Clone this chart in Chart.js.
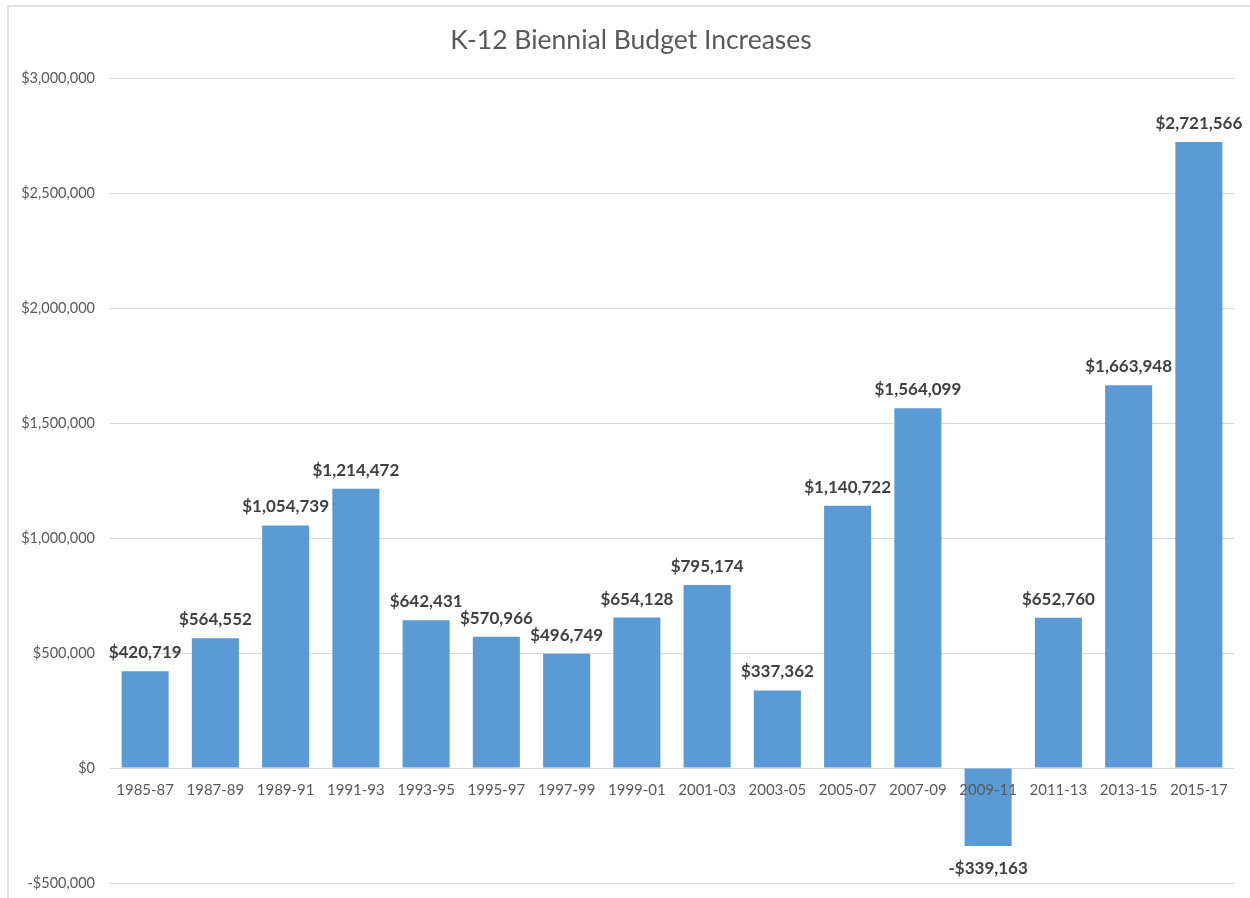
<!DOCTYPE html>
<html>
<head>
<meta charset="utf-8">
<title>K-12 Biennial Budget Increases</title>
<script src="https://cdn.jsdelivr.net/npm/chart.js@4/dist/chart.umd.min.js"></script>
<style>
  html, body { margin: 0; padding: 0; background: #fff; }
  #wrap { width: 1250px; height: 898px; }
</style>
</head>
<body>
<div id="wrap"><canvas id="barChart"></canvas></div>
<script>
const chartTitle = 'K-12 Biennial Budget Increases';
const bienniums = ['1985-87', '1987-89', '1989-91', '1991-93', '1993-95', '1995-97', '1997-99', '1999-01',
  '2001-03', '2003-05', '2005-07', '2007-09', '2009-11', '2011-13', '2013-15', '2015-17'];
const increases = [420719, 564552, 1054739, 1214472, 642431, 570966, 496749, 654128,
  795174, 337362, 1140722, 1564099, -339163, 652760, 1663948, 2721566];
const yTicks = [-500000, 0, 500000, 1000000, 1500000, 2000000, 2500000, 3000000];

const money = (v) => (v < 0 ? '-$' : '$') + Math.abs(v).toLocaleString('en-US');

// light frame around the whole chart plus the centred title
const framePlugin = {
  id: 'frame',
  beforeDraw(chart) {
    const ctx = chart.ctx;
    ctx.save();
    ctx.strokeStyle = '#d9d9d9';
    ctx.lineWidth = 1.5;
    ctx.strokeRect(8, 6, 1400, 1000);
    ctx.font = '26.5px Lato';
    ctx.fillStyle = '#595959';
    ctx.textAlign = 'center';
    ctx.textBaseline = 'alphabetic';
    ctx.fillText(chartTitle, 631, 49);
    ctx.restore();
  },
};

// value labels above each bar (below for negatives)
const valueLabels = {
  id: 'valueLabels',
  afterDatasetsDraw(chart) {
    const ctx = chart.ctx;
    const meta = chart.getDatasetMeta(0);
    ctx.save();
    ctx.font = 'bold 17px Lato';
    ctx.fillStyle = '#404040';
    ctx.textAlign = 'center';
    ctx.textBaseline = 'alphabetic';
    meta.data.forEach((bar, i) => {
      const v = increases[i];
      const y = v < 0 ? bar.y + 28 : bar.y - 13;
      ctx.fillText(money(v), bar.x, y);
    });
    ctx.restore();
  },
};

const config = {
  type: 'bar',
  data: {
    labels: bienniums,
    datasets: [
      {
        data: increases,
        backgroundColor: '#5B9BD5',
        borderWidth: 0,
        categoryPercentage: 1,
        barPercentage: 0.67,
      },
    ],
  },
  options: {
    responsive: true,
    maintainAspectRatio: false,
    animation: false,
    layout: { padding: { left: 0, right: 16, top: 78, bottom: 15 } },
    plugins: {
      legend: { display: false },
      tooltip: { enabled: false },
      title: { display: false },
    },
    scales: {
      x: {
        position: { y: 0 },
        afterFit(scale) { scale.height = 0; },
        grid: { display: false, drawTicks: false },
        border: { display: false },
        ticks: {
          z: 1,
          color: '#595959',
          font: { family: 'Lato', size: 15 },
          padding: 13,
          maxRotation: 0,
          autoSkip: false,
        },
      },
      y: {
        min: -500000,
        max: 3000000,
        afterFit(scale) {
          scale.width = 110;
          scale.paddingTop = 0;
          scale.paddingBottom = 0;
        },
        afterBuildTicks(scale) { scale.ticks = yTicks.map((value) => ({ value })); },
        grid: { color: '#d9d9d9', drawTicks: false },
        border: { display: false },
        ticks: {
          color: '#595959',
          font: { family: 'Lato', size: 14.5 },
          padding: 15,
          callback: (v) => money(v),
        },
      },
    },
  },
  plugins: [framePlugin, valueLabels],
};

new Chart(document.getElementById('barChart'), config);
</script>
</body>
</html>
